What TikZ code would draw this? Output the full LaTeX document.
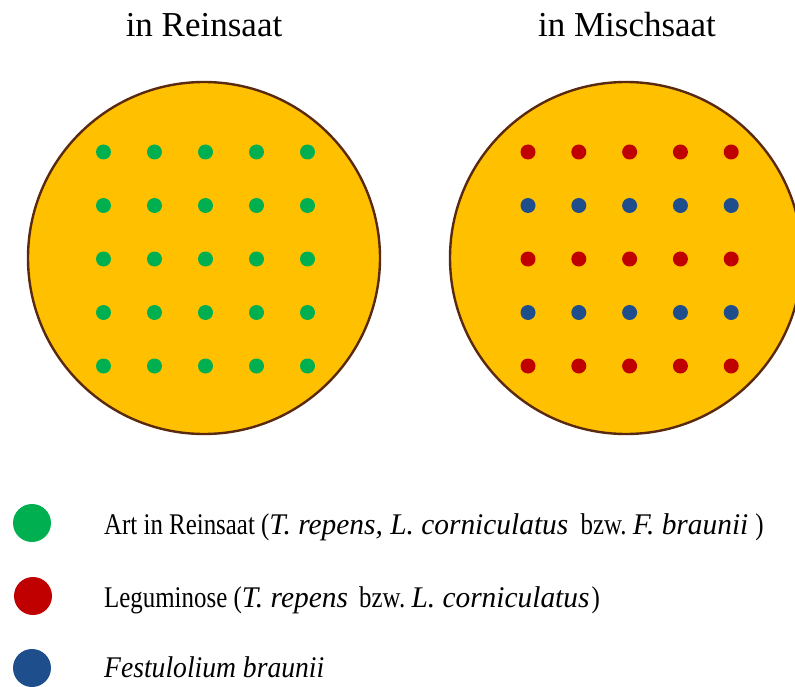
\documentclass[tikz,border=0pt]{standalone}
\usepackage{fontspec}
\setmainfont{Liberation Serif}
\newfontfamily\legupright[FakeStretch=0.83]{Liberation Serif}
\newfontfamily\legslanted[FakeStretch=0.98]{Liberation Serif}
\newfontfamily\legnarrow[FakeStretch=0.92]{Liberation Serif}
\newcommand{\legital}[1]{{\legslanted\itshape #1}}
\definecolor{fieldfill}{HTML}{FFC000}
\definecolor{fieldline}{HTML}{5A2A10}
\definecolor{artgreen}{HTML}{00B050}
\definecolor{legred}{HTML}{C00000}
\definecolor{fesblue}{HTML}{1F4E8C}
\tikzset{
  field/.style={circle, draw=fieldline, line width=2.4pt, fill=fieldfill, minimum size=352pt, inner sep=0pt},
  seed/.style={circle, minimum size=15pt, inner sep=0pt},
  legdot/.style={circle, minimum size=38pt, inner sep=0pt},
  titletext/.style={anchor=base, inner sep=0pt, font=\fontsize{35}{42}\selectfont},
  legtext/.style={anchor=base west, inner sep=0pt, font=\fontsize{30}{36}\selectfont\legupright}
}
\begin{document}
\begin{tikzpicture}[x=1pt,y=-1pt]
\useasboundingbox (0,0) rectangle (795,687);
\clip (0,0) rectangle (795,687);
% titles
\node[titletext] (reintitle) at (204,37) {in Reinsaat};
\node[titletext] (mischtitle) at (627,37) {in Mischsaat};
% fields
\node[field] (reinfield) at (204,258) {};
\node[field] (mischfield) at (626,258) {};
% seeds Reinsaat
\foreach \i in {0,...,4}{
  \foreach \j in {0,...,4}{
    \node[seed, fill=artgreen] (r-\i-\j) at ({103.5+51*\i},{152+53.5*\j}) {};
  }
}
% seeds Mischsaat
\foreach \i in {0,...,4}{
  \foreach \j in {0,2,4}{
    \node[seed, fill=legred] (m-\i-\j) at ({528+50.8*\i},{152+53.5*\j}) {};
  }
  \foreach \j in {1,3}{
    \node[seed, fill=fesblue] (m-\i-\j) at ({528+50.8*\i},{152+53.5*\j}) {};
  }
}
% legend
\node[legdot, fill=artgreen] (leggreen) at (32,523) {};
\node[legdot, fill=legred] (legred) at (33,596) {};
\node[legdot, fill=fesblue] (legblue) at (32,668) {};
\node[legtext] (txtgreen) at (104,534) {Art in Reinsaat (\legital{T. repens, L. corniculatus}\hspace{6pt} bzw.\ \legital{F. braunii}\hspace{7pt})};
\node[legtext] (txtred) at (104,607) {Leguminose (\legital{T. repens}\hspace{5pt} bzw.\ \legital{L. corniculatus}\hspace{2pt})};
\node[legtext] (txtblue) at (104,677) {{\legnarrow\itshape Festulolium braunii}};
\end{tikzpicture}
\end{document}
